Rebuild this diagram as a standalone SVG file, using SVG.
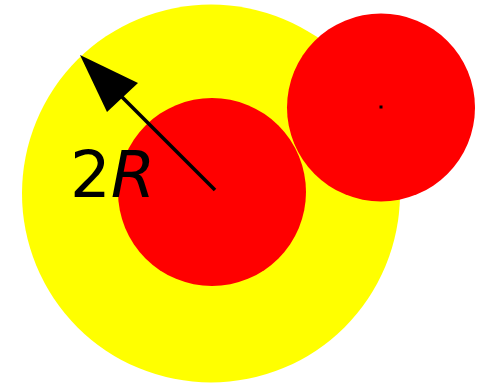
<svg xmlns="http://www.w3.org/2000/svg" width="481" height="386" viewBox="0 0 481 386">
<style>
.red{fill:#ff0000}
.yel{fill:#ffff00}
.lbl{font-family:"DejaVu Sans",sans-serif;font-size:64px;fill:#000}
</style>
<rect width="481" height="386" fill="#fff"/>
<g id="outer"><circle class="yel" cx="211" cy="193.5" r="189"/></g>
<g id="inner"><circle class="red" cx="212" cy="192" r="94"/></g>
<g id="right"><circle class="red" cx="381" cy="107.5" r="94"/><rect x="379.5" y="105.5" width="3" height="3" fill="#000"/></g>
<g id="connectors">
<line x1="215" y1="190" x2="115" y2="90" stroke="#000" stroke-width="3.5"/>
<polygon points="80,55 138,83 107,112" fill="#000"/>
</g>
<g id="label"><text class="lbl" x="70" y="197">2<tspan font-style="italic">R</tspan></text></g>
</svg>
